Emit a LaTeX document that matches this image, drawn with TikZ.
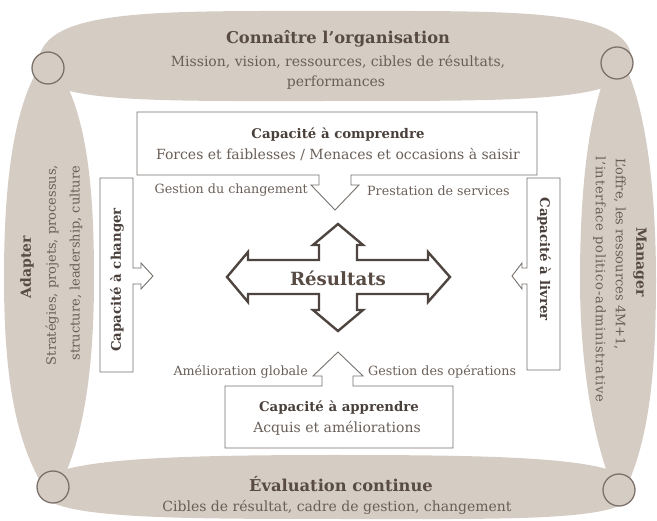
\documentclass[tikz,border=0pt]{standalone}
\usepackage{fontspec}
\setmainfont{DejaVu Serif}
\newfontfamily\spacedfont[LetterSpace=6]{DejaVu Serif}
\definecolor{beige}{HTML}{D5CCC3}
\definecolor{ringc}{HTML}{7D726B}
\definecolor{txtd}{HTML}{574B44}
\definecolor{txtl}{HTML}{6A5F58}
\definecolor{boxc}{HTML}{75706C}
\definecolor{arrc}{HTML}{4F4540}
\definecolor{txtb}{HTML}{4A403B}
\begin{document}
\begin{tikzpicture}[x=1pt,y=-1pt,
  lensshape/.style={fill=beige,draw=none},
  ringnode/.style={circle,draw=ringc,line width=1.3pt,fill=beige,minimum size=32pt,inner sep=0pt},
  capbox/.style={draw=boxc,line width=0.9pt,fill=white,line join=miter},
  crossarrow/.style={draw=arrc,line width=2.4pt,fill=white,line join=miter},
  titletext/.style={font=\bfseries\fontsize{16.3}{20}\selectfont,text=txtd,inner sep=0pt},
  subtext/.style={font=\fontsize{14}{20}\selectfont,text=txtl,inner sep=0pt},
  sidebold/.style={font=\bfseries\fontsize{14}{17}\selectfont,text=txtd,inner sep=0pt},
  sidetext/.style={font=\fontsize{13}{15}\selectfont,text=txtl,inner sep=0pt},
  capbold/.style={font=\bfseries\fontsize{13.3}{16}\selectfont,text=txtb,inner sep=0pt},
  captext/.style={font=\fontsize{14}{17}\selectfont,text=txtl,inner sep=0pt},
  calltext/.style={font=\fontsize{12.7}{15}\selectfont,text=txtl,inner sep=0pt},
  restext/.style={font=\bfseries\fontsize{18.2}{22}\selectfont,text=txtd,inner sep=0pt},
]
\useasboundingbox (0,0) rectangle (657,521);
% outer lens shapes
\path[lensshape] (38,66) .. controls (38,8) and (150,11) .. (335,11) .. controls (520,11) and (632,8) .. (632,62) .. controls (632,102) and (520,101) .. (335,101) .. controls (150,101) and (38,104) .. (38,66) -- cycle;
\path[lensshape] (38,487) .. controls (45,460) and (150,455) .. (335,455) .. controls (520,455) and (634,458) .. (634,490) .. controls (634,522) and (520,519) .. (335,519) .. controls (150,519) and (38,518) .. (38,487) -- cycle;
\path[lensshape] (48,55) .. controls (10,100) and (4,200) .. (4,278) .. controls (4,380) and (16,450) .. (52,500) .. controls (86,445) and (94,360) .. (94,278) .. controls (94,180) and (86,100) .. (48,55) -- cycle;
\path[lensshape] (617,50) .. controls (648,100) and (656,200) .. (656,280) .. controls (656,380) and (648,450) .. (619,502) .. controls (592,445) and (580,360) .. (580,280) .. controls (580,190) and (588,100) .. (617,50) -- cycle;
% corner rings
\node[ringnode] (ringtl) at (48,68) {};
\node[ringnode] (ringtr) at (617,63) {};
\node[ringnode] (ringbl) at (53,487) {};
\node[ringnode] (ringbr) at (619,490) {};
% outer texts
\node[titletext] (conn) at (338,39) {Connaître l’organisation};
\node[subtext] (connA) at (338,62) {Mission, vision, ressources, cibles de résultats,};
\node[subtext] (connB) at (336,83) {performances};
\node[titletext] (evalT) at (341,484) {Évaluation continue};
\node[subtext] (evalA) at (337,507) {Cibles de résultat, cadre de gestion, changement};
\node[sidebold,rotate=90] (adapT) at (27,267) {Adapter};
\node[sidetext,rotate=90] (adapA) at (52,265) {Stratégies, projets, processus,};
\node[sidetext,rotate=90] (adapB) at (76,263) {structure, leadership, culture};
\node[sidebold,rotate=-90] (manT) at (640,262) {Manager};
\node[sidetext,rotate=-90,anchor=south west] (manA) at (614,158) {L’offre, les ressources 4M+1,};
\node[sidetext,rotate=-90,anchor=south west] (manB) at (593,156) {\spacedfont l’interface politico-administrative};
% capacity boxes
\draw[capbox] (137,112) -- (537,112) -- (537,175) -- (351,175) -- (351,185) -- (359,185) -- (335,210) -- (311,185) -- (319,185) -- (319,175) -- (137,175) -- cycle;
\draw[capbox] (100,178) -- (133,178) -- (133,268) -- (141,268) -- (141,263) -- (153,276) -- (141,289) -- (141,284) -- (133,284) -- (133,372) -- (100,372) -- cycle;
\draw[capbox] (527,178) -- (560,178) -- (560,370) -- (527,370) -- (527,284) -- (522,284) -- (522,289) -- (512,276) -- (522,263) -- (522,268) -- (527,268) -- cycle;
\draw[capbox] (225,386) -- (322,386) -- (322,376) -- (313,376) -- (338,352) -- (363,376) -- (353,376) -- (353,386) -- (453,386) -- (453,448) -- (225,448) -- cycle;
\node[capbold] (compT) at (338,135) {Capacité à comprendre};
\node[captext] (compA) at (338,155) {Forces et faiblesses / Menaces et occasions à saisir};
\node[capbold,rotate=90] (chanT) at (117,280) {Capacité à changer};
\node[capbold,rotate=-90] (livT) at (544,259) {Capacité à livrer};
\node[capbold] (appT) at (339,408) {Capacité à apprendre};
\node[captext] (appA) at (337,428) {Acquis et améliorations};
\node[calltext,anchor=east] (lblGC) at (308,190) {Gestion du changement};
\node[calltext,anchor=west] (lblPS) at (367,191) {Prestation de services};
\node[calltext,anchor=east] (lblAG) at (308,372) {Amélioration globale};
\node[calltext,anchor=west] (lblGO) at (368,372) {Gestion des opérations};
% central cross arrow
\draw[crossarrow] (338,224) -- (363,245) -- (357,245) -- (357,260) -- (428,260) -- (428,252) -- (450,277) -- (428,302) -- (428,294) -- (357,294) -- (357,310) -- (363,310) -- (338,331) -- (313,310) -- (319,310) -- (319,294) -- (248,294) -- (248,302) -- (227,277) -- (248,252) -- (248,260) -- (319,260) -- (319,245) -- (313,245) -- cycle;
\node[restext] (res) at (338,278) {Résultats};
\end{tikzpicture}
\end{document}
